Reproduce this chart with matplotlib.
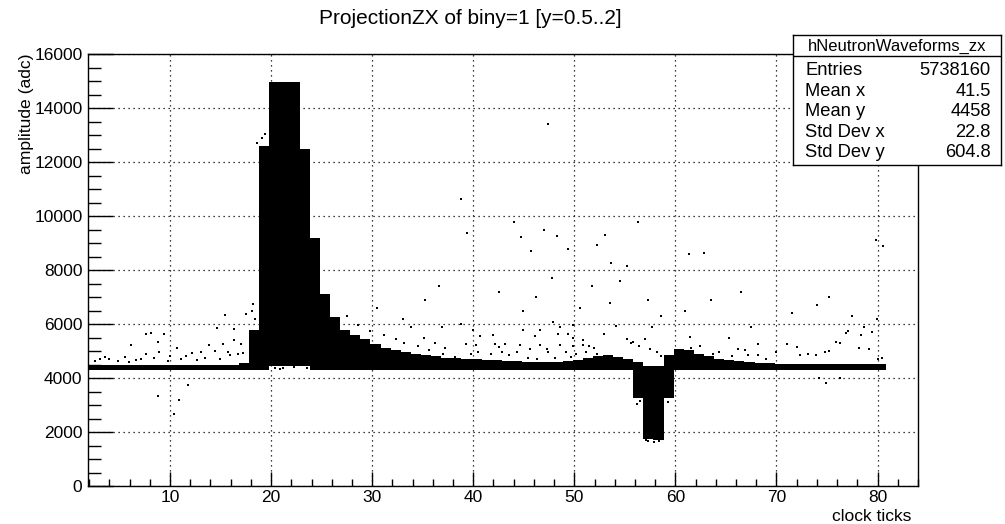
import numpy as np
import matplotlib
matplotlib.use("Agg")
from matplotlib import pyplot as plt
from matplotlib.ticker import MultipleLocator

plt.rcParams['font.family'] = ['Liberation Sans', 'DejaVu Sans']

# dense band per clock tick: lower / upper edge of the black cloud (adc)
ticks = np.arange(2, 81)
band_lo = [4310] * 18 + [4460] * 4 + [4310] * 32 + [3250, 1750, 1700, 3250] + [4310] * 21
band_hi = [4480, 4480, 4480, 4480, 4480, 4480, 4480, 4480, 4480, 4480,   # 2-11
           4480, 4480, 4480, 4480, 4480, 4550, 5800, 12600, 14990, 14990,  # 12-21
           14990, 12500, 9180, 7100, 6250, 5780, 5610, 5440, 5280, 5130,   # 22-31
           5030, 4970, 4910, 4850, 4810, 4760, 4730, 4710, 4690, 4670,     # 32-41
           4660, 4640, 4630, 4610, 4600, 4600, 4600, 4620, 4660, 4730,     # 42-51
           4810, 4850, 4790, 4690, 4600, 4450, 4450, 4850, 5060, 5030,     # 52-61
           4910, 4810, 4725, 4660, 4625, 4600, 4575, 4555, 4540, 4520,     # 62-71
           4520, 4515, 4515, 4510, 4510, 4510, 4510, 4510, 4510]           # 72-80

# isolated entries outside the band
out_x = [18.2, 17.5, 15.4, 16.3, 14.6, 8.1, 7.6, 9.4, 8.8, 6.1, 13.9, 15.2, 16.3, 17.0,
         10.7, 14.4, 8.9, 7.6, 12.2, 13.1, 15.7, 15.9, 17.2, 11.6, 5.5, 7.1, 3.6, 4.0,
         10.0, 8.4, 2.6, 3.1, 4.8, 5.9, 6.6, 9.8, 11.1, 12.7, 13.5, 14.9, 16.7,
         18.4, 18.1, 19.1, 19.4, 18.6,
         8.84, 10.9, 10.4, 11.8,
         38.8, 39.99, 40.65, 41.97, 44.9, 46.1, 46.6, 47.9, 48.4, 48.6, 49.4, 49.9, 49.9,
         50.9, 52.9, 54.1, 55.2, 55.8, 39.3, 40.3, 42.1, 42.5, 43.1, 44.6, 45.6, 46.6,
         47.3, 48.6, 49.9, 50.9, 51.4, 51.9, 37.2, 37.0, 38.2, 39.8, 40.5, 41.8, 42.8,
         43.5, 44.3, 45.4, 46.3, 47.4, 48.1, 49.2, 49.7, 50.2, 51.2, 52.2, 36.9,
         27.5, 28.6, 29.8, 31.2, 32.4, 33.1, 34.5, 35.6, 30.5, 33.8, 35.1, 36.2,
         57.7, 55.6, 56.96, 56.4, 57.5, 58.2, 58.6, 61.4, 62.4, 61.5, 63.7, 64.3, 65.3,
         65.6, 66.2, 66.9, 67.2, 67.5, 68.2, 68.2, 69.0, 70.0, 71.0, 72.0, 72.3, 73.1,
         73.9, 74.8, 75.2, 75.9, 76.3, 76.9, 77.1, 78.2, 78.4, 78.7, 79.2, 79.4, 80.05,
         80.4, 74.2, 74.9, 76.3,
         38.8, 39.4, 47.4, 44.0, 44.7, 45.7, 47.0, 48.3, 49.4, 52.2, 53.0, 53.6, 55.2,
         56.3, 61.3, 62.8, 75.2, 79.8, 80.5, 36.6, 42.5, 44.9, 46.2, 47.8, 50.6, 51.7,
         53.5, 54.5, 57.3, 58.6, 60.9, 63.5, 66.5, 71.5, 74.0, 77.5, 79.9, 35.2, 33.0,
         57.3, 57.9, 58.4, 57.1, 56.2, 56.5, 59.3,
         20.4, 21.2, 22.3, 23.5, 24.3, 20.9]
out_y = [6740, 6370, 6330, 5830, 5840, 5680, 5620, 5620, 5340, 5220, 5220, 5260, 5400, 5280,
         5100, 5000, 4970, 4890, 4930, 4970, 4970, 4850, 4930, 4810, 4785, 4725, 4785, 4690,
         4810, 4760, 4620, 4700, 4650, 4600, 4680, 4640, 4700, 4660, 4750, 4700, 4900,
         6200, 6500, 12900, 13050, 12700,
         3327, 3205, 2685, 3760,
         6020, 5775, 5550, 5590, 5800, 5550, 5775, 6080, 5650, 5875, 5625, 5960, 5470,
         5400, 5625, 5925, 5430, 5340, 5260, 5220, 5260, 5160, 5260, 5220, 5060, 5220,
         5060, 5220, 5180, 5220, 5180, 5100, 5100, 4910, 4785, 4910, 4970, 4910, 4970,
         4850, 4970, 4760, 4725, 4970, 4760, 4970, 4785, 4910, 4970, 4910, 5900,
         6300, 5950, 5750, 5600, 5450, 5300, 5200, 5050, 6600, 5900, 5500, 5300,
         5875, 5300, 5430, 5180, 5060, 4970, 4810, 5530, 5180, 5100, 4910, 4970, 5470,
         4810, 5060, 5030, 4850, 5875, 5260, 4850, 4725, 4970, 5260, 5160, 4850, 4910,
         4850, 4970, 5010, 5340, 5300, 5680, 5750, 5130, 5590, 5900, 5060, 5710, 4725,
         4760, 4020, 3820, 4020,
         10630, 9390, 13410, 9780, 9230, 8700, 9500, 9250, 8800, 8920, 9300, 8250, 8150,
         9800, 8600, 8650, 7000, 9100, 8900, 7400, 7200, 6500, 7000, 7700, 6600, 7400,
         6800, 7600, 6900, 6300, 6500, 6900, 7200, 6400, 6700, 6300, 6200, 6900, 6200,
         1650, 1620, 1680, 1700, 3050, 3150, 3100,
         4380, 4360, 4400, 4390, 4370, 4350]

fig = plt.figure(figsize=(10.05, 5.24), dpi=100)
ax = fig.add_axes([88 / 1005, 1 - 486 / 524, 830 / 1005, 431.7 / 524])

hi = np.array(band_hi)
lo = np.array(band_lo)
ax.bar(ticks - 0.17, hi - lo, bottom=lo, width=1.0, align='edge',
       color='black', linewidth=0, zorder=2)
ax.scatter(out_x, out_y, s=2.2, marker='s', color='black', linewidths=0, zorder=3)

ax.set_xlim(1.88, 84.0)
ax.set_ylim(0, 16000)
ax.xaxis.set_major_locator(MultipleLocator(10))
ax.xaxis.set_minor_locator(MultipleLocator(2))
ax.yaxis.set_major_locator(MultipleLocator(2000))
ax.yaxis.set_minor_locator(MultipleLocator(500))
ax.tick_params(axis='x', which='major', direction='in', length=10, width=1, pad=3, labelsize=12.5)
ax.tick_params(axis='x', which='minor', direction='in', length=5, width=1)
ax.tick_params(axis='y', which='major', direction='in', length=18, width=1, pad=4, labelsize=12.5)
ax.tick_params(axis='y', which='minor', direction='in', length=9, width=1)
ax.grid(True, which='major', color='black', linestyle=(0, (1, 3)), linewidth=0.9)
ax.set_axisbelow(True)
for sp in ax.spines.values():
    sp.set_linewidth(1.0)

fig.text(470 / 1005, 1 - 18 / 524, "ProjectionZX of biny=1 [y=0.5..2]",
         ha='center', va='center', fontsize=15)
fig.text(911.7 / 1005, 1 - 516.7 / 524, "clock ticks", ha='right', va='center', fontsize=12.6)
fig.text(27 / 1005, 1 - 53 / 524, "amplitude (adc)", rotation=90,
         ha='center', va='top', fontsize=12.6)

# stats box
sb = fig.add_axes([793 / 1005, 1 - 165 / 524, 208 / 1005, 130 / 524])
sb.set_xlim(0, 208)
sb.set_ylim(130, 0)
sb.set_xticks([])
sb.set_yticks([])
for sp in sb.spines.values():
    sp.set_linewidth(1.0)
sb.axhline(21, color='black', linewidth=1.0)
sb.text(104, 15.7, "hNeutronWaveforms_zx", ha='center', va='baseline', fontsize=12)
labels = ["Entries", "Mean x", "Mean y", "Std Dev x", "Std Dev y"]
values = ["5738160", "41.5", "4458", "22.8", "604.8"]
for i, (lab, val) in enumerate(zip(labels, values)):
    yb = 40 + 20.6 * i
    sb.text(12, yb, lab, ha='left', va='baseline', fontsize=13.2)
    sb.text(197.7, yb, val, ha='right', va='baseline', fontsize=13.2)

fig.savefig("out.png", dpi=100)
